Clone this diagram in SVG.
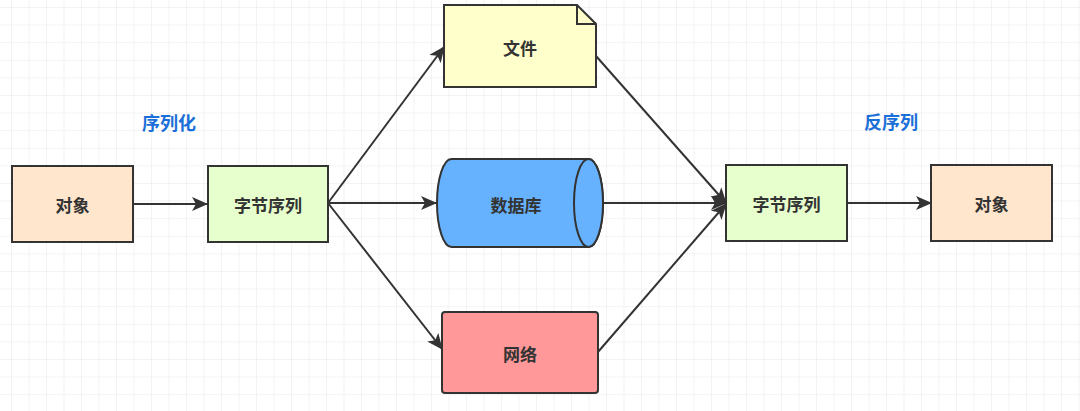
<svg xmlns="http://www.w3.org/2000/svg" width="1080" height="411" viewBox="0 0 1080 411">
<defs>
<pattern id="grid" x="11" y="7" width="17.5" height="17.6" patternUnits="userSpaceOnUse">
<path d="M0,0 V17.6 M0,0 H17.5" fill="none" stroke="#e8e8e8" stroke-width="1"/>
</pattern>
<marker id="arr" markerUnits="userSpaceOnUse" markerWidth="18" markerHeight="16" refX="15" refY="7" orient="auto">
<path d="M0,0 L16,7 L0,14 L4,7 Z" fill="#333"/>
</marker>
<style>
.box{stroke:#333;stroke-width:2}
.t{font-family:"Noto Sans CJK SC","Noto Sans",sans-serif;font-size:17px;font-weight:bold;fill:#333;text-anchor:middle;dominant-baseline:central}
.lbl{font-family:"Noto Sans CJK SC","Noto Sans",sans-serif;font-size:18px;font-weight:bold;fill:#1a6fd8;text-anchor:middle;dominant-baseline:central}
.c{fill:none;stroke:#333;stroke-width:2;marker-end:url(#arr)}
</style>
</defs>
<rect width="1080" height="411" fill="#fff"/>
<rect width="1080" height="411" fill="url(#grid)"/>
<g id="connectors">
<line class="c" x1="133" y1="204" x2="207" y2="204"/>
<line class="c" x1="328" y1="203" x2="444" y2="47"/>
<line class="c" x1="328" y1="203" x2="436" y2="203"/>
<line class="c" x1="328" y1="203" x2="442" y2="349"/>
<line class="c" x1="596" y1="56" x2="726" y2="203"/>
<line class="c" x1="603" y1="203" x2="726" y2="203"/>
<line class="c" x1="598" y1="352" x2="726" y2="204"/>
<line class="c" x1="847" y1="203" x2="931" y2="203"/>
</g>
<g id="label-serialize"><text class="lbl" x="169" y="122">序列化</text></g>
<g id="label-deserialize"><text class="lbl" x="891" y="121">反序列</text></g>
<g id="obj-left">
<rect class="box" x="12" y="166" width="121" height="76" fill="#ffe6cc"/>
<text class="t" x="72.5" y="204">对象</text>
</g>
<g id="bytes-left">
<rect class="box" x="208" y="166" width="120" height="76" fill="#e6ffcc"/>
<text class="t" x="268" y="204">字节序列</text>
</g>
<g id="file">
<path class="box" d="M444,5 H577 L596,24 V87 H444 Z" fill="#ffffcc"/>
<path d="M577,5 V24 H596" fill="none" stroke="#333" stroke-width="2"/>
<text class="t" x="520" y="47">文件</text>
</g>
<g id="database">
<path class="box" d="M451.5,159 H588.5 A14.5,44 0 0 1 588.5,247 H451.5 A14.5,44 0 0 1 451.5,159 Z" fill="#66b2ff"/>
<ellipse class="box" cx="588.5" cy="203" rx="14.5" ry="44" fill="#66b2ff"/>
<text class="t" x="516" y="204">数据库</text>
</g>
<g id="network">
<rect class="box" x="442" y="312" width="156" height="81" rx="3" fill="#ff9999"/>
<text class="t" x="520" y="353">网络</text>
</g>
<g id="bytes-right">
<rect class="box" x="726" y="165" width="121" height="76" fill="#e6ffcc"/>
<text class="t" x="786.5" y="203">字节序列</text>
</g>
<g id="obj-right">
<rect class="box" x="931" y="165" width="121" height="76" fill="#ffe6cc"/>
<text class="t" x="991.5" y="203">对象</text>
</g>
</svg>
